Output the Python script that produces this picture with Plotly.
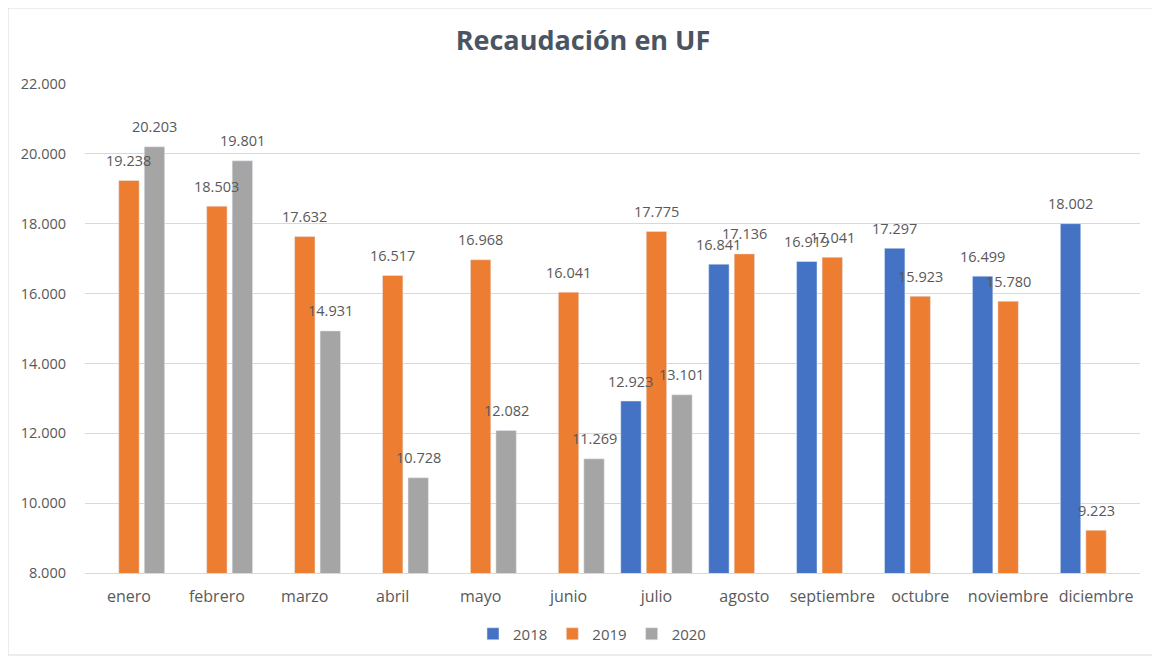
import plotly.graph_objects as go

meses = ["enero", "febrero", "marzo", "abril", "mayo", "junio", "julio",
         "agosto", "septiembre", "octubre", "noviembre", "diciembre"]
v2018 = [None, None, None, None, None, None, 12923, 16841, 16919, 17297, 16499, 18002]
v2019 = [19238, 18503, 17632, 16517, 16968, 16041, 17775, 17136, 17041, 15923, 15780, 9223]
v2020 = [20203, 19801, 14931, 10728, 12082, 11269, 13101, None, None, None, None, None]
y_ticks = [8000, 10000, 12000, 14000, 16000, 18000, 20000, 22000]

FONT = "'Open Sans', 'Noto Sans', sans-serif"
TXT = "#595959"

OFF = 8  # page body margin
W, H = 1160 - OFF, 662 - OFF
L, R, T, B = 85 - OFF, 20, 84 - OFF, 89
pw, ph = W - L - R, H - T - B
BARGAP = 0.13
GROUPGAP = 0.2

def px(x):
    return (x - OFF - L) / pw

def py(y):
    return (H - B - (y - OFF)) / ph

series = [("2018", v2018, "#4472C4"), ("2019", v2019, "#ED7D31"), ("2020", v2020, "#A5A5A5")]

fig = go.Figure()
for name, vals, col in series:
    fig.add_trace(go.Bar(name=name, x=meses, y=vals, marker_color=col))

# data labels drawn above all bars
cat_w = pw / len(meses)
slot = cat_w * (1 - BARGAP) / len(series)
annotations = []
for i, (name, vals, col) in enumerate(series):
    shift = (i - (len(series) - 1) / 2) * slot
    for m, v in zip(meses, vals):
        if v is None:
            continue
        annotations.append(dict(
            x=m, y=v, xref="x", yref="y", text=f"{v:,}".replace(",", "."),
            showarrow=False, xshift=shift, yshift=20, yanchor="middle",
            font=dict(size=14.5, color=TXT, family=FONT),
        ))

fig.update_layout(
    width=W, height=H,
    margin=dict(l=L, r=R, t=T, b=B),
    paper_bgcolor="white", plot_bgcolor="white",
    separators=",.",
    barmode="group", bargap=BARGAP, bargroupgap=GROUPGAP,
    font=dict(family=FONT, color=TXT, size=14),
    title=dict(text="<b>Recaudación en UF</b>", x=px(583), xanchor="center",
               xref="paper",
               y=1 - (41 - OFF) / H, yanchor="middle",
               font=dict(size=27, color="#4A5462", family=FONT)),
    showlegend=True,
    legend=dict(orientation="h", x=px(592), xanchor="center", y=py(634), yanchor="middle",
                font=dict(size=15, color=TXT, family=FONT), traceorder="normal",
                itemwidth=30),
    yaxis=dict(range=[8000, 22000], tickvals=y_ticks, tickformat=",d",
               showgrid=True, gridcolor="#D9D9D9", gridwidth=1, zeroline=False,
               tickfont=dict(size=14.5, color=TXT), ticks="", ticklabelstandoff=18),
    xaxis=dict(showgrid=False, showline=True, linecolor="#D9D9D9",
               tickfont=dict(size=16, color=TXT), ticks="", ticklabelstandoff=9),
    annotations=annotations,
    shapes=[dict(type="rect", xref="paper", yref="paper",
                 x0=px(8), x1=px(1155), y0=py(655), y1=py(8),
                 line=dict(color="#D9D9D9", width=1), fillcolor="rgba(0,0,0,0)",
                 layer="below")],
)

fig.write_html("out.html")
